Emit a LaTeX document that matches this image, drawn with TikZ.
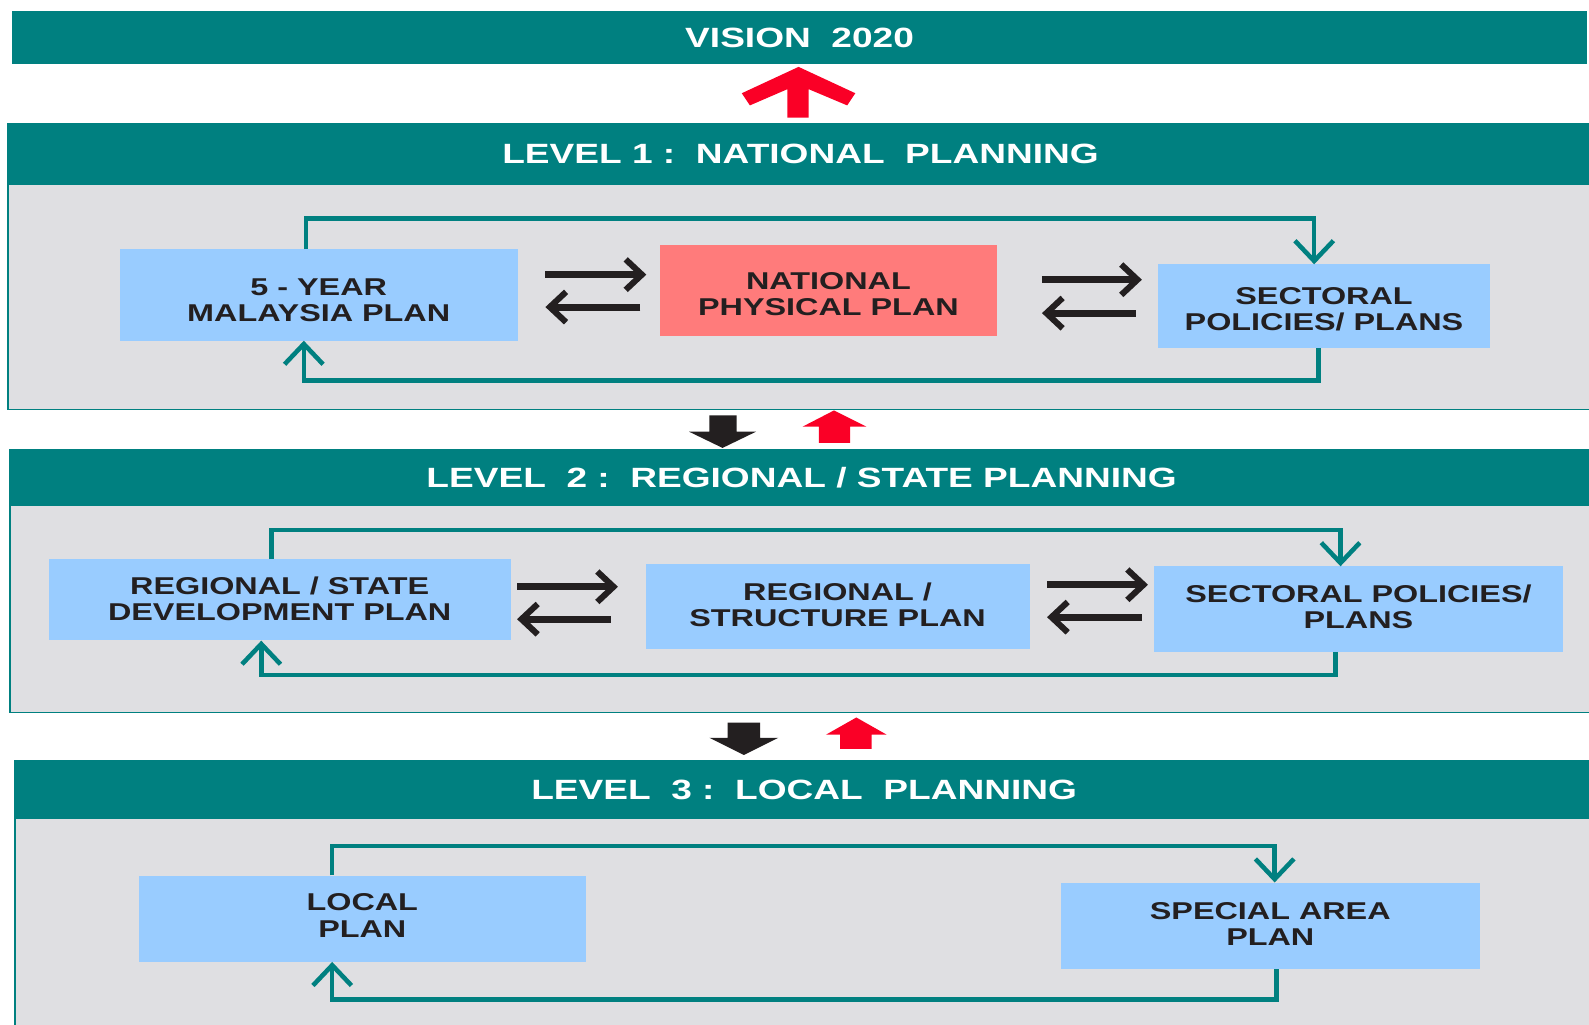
\documentclass[tikz,border=0pt]{standalone}
\usepackage{fontspec}
\setmainfont{Liberation Sans}
\newfontfamily\wfont[FakeStretch=1.33]{Liberation Sans}
\usetikzlibrary{arrows.meta,calc}
\definecolor{tealc}{RGB}{0,128,128}
\definecolor{panelg}{RGB}{223,223,226}
\definecolor{boxb}{RGB}{153,204,255}
\definecolor{salmon}{RGB}{255,123,123}
\definecolor{redc}{RGB}{250,0,38}
\definecolor{ink}{RGB}{35,31,32}
\begin{document}
\begin{tikzpicture}[x=1pt,y=-1pt,
  header/.style={rectangle,fill=tealc,draw=none,inner sep=0pt,text=white,
    font=\wfont\bfseries\fontsize{27.5}{30}\selectfont},
  panel/.style={rectangle,fill=panelg,draw=tealc,line width=1.5pt,inner sep=0pt},
  bbox/.style={rectangle,fill=boxb,inner sep=0pt},
  rbox/.style={bbox,fill=salmon},
  btext/.style={inner sep=0pt,align=center,text=ink,
    font=\wfont\bfseries\fontsize{24}{26}\selectfont},
  loopline/.style={draw=tealc,line width=4.5pt,line join=miter,
    -{Straight Barb[length=20pt,width=38pt,line width=4.5pt]}},
  blk/.style={draw=ink,line width=7pt,
    -{Straight Barb[length=16pt,width=30pt,line width=6pt]}}
]
\useasboundingbox (0,0) rectangle (1568,1011);
\fill[white] (0,0) rectangle (1568,1011);

% panels
\node[panel,minimum width=1564pt,minimum height=282pt] (p1) at (790,263) {};
\node[panel,minimum width=1562pt,minimum height=259pt] (p2) at (791,573.5) {};
\node[panel,minimum width=1557pt,minimum height=264pt] (p3) at (793.5,883) {};

% headers
\node[header,minimum width=1554pt,minimum height=53pt] (vision) at (789,37) {VISION\ \ 2020};
\node[header,minimum width=1564pt,minimum height=61pt] (h1) at (790,152.5) {\raisebox{2pt}{LEVEL 1 :\ \ NATIONAL\ \ PLANNING}};
\node[header,minimum width=1562pt,minimum height=55pt] (h2) at (791,471.5) {LEVEL\ \ 2 :\ \ REGIONAL / STATE PLANNING};
\node[header,minimum width=1557pt,minimum height=57pt] (h3) at (793.5,779.5) {LEVEL\ \ 3 :\ \ LOCAL\ \ PLANNING};

% block arrows between levels
\fill[redc] (788,66) -- (844,92) -- (836,104) -- (798,88) -- (798,116) -- (777,116)
  -- (777,88) -- (740,104) -- (732,92) -- cycle;
\fill[ink] (700,410) -- (727,410) -- (727,426) -- (746,426) -- (713,442) -- (680,426) -- (700,426) -- cycle;
\fill[redc] (808,437) -- (839,437) -- (839,421) -- (855,421) -- (823,405) -- (792,421) -- (808,421) -- cycle;
\fill[ink] (718,713) -- (750,713) -- (750,728) -- (768,728) -- (734,745) -- (700,728) -- (718,728) -- cycle;
\fill[redc] (829,739) -- (860,739) -- (860,725) -- (875,725) -- (845,708) -- (815,725) -- (829,725) -- cycle;

% level 1 boxes
\node[bbox,minimum width=393pt,minimum height=90pt,
  label={[btext,yshift=-5pt]center:5 - YEAR\\MALAYSIA PLAN}] (b11) at (314.5,291) {};
\node[rbox,minimum width=333pt,minimum height=90pt,
  label={[btext,yshift=-3pt]center:NATIONAL\\PHYSICAL PLAN}] (b12) at (817.5,287) {};
\node[bbox,minimum width=327pt,minimum height=82pt,
  label={[btext,yshift=-3pt]center:SECTORAL\\POLICIES/ PLANS}] (b13) at (1306.5,302) {};

% level 2 boxes
\node[bbox,minimum width=456pt,minimum height=80pt,
  label={[btext,yshift=1pt]center:REGIONAL / STATE\\DEVELOPMENT PLAN}] (b21) at (276,592) {};
\node[bbox,minimum width=379pt,minimum height=83pt,
  label={[btext,yshift=2pt]center:REGIONAL /\\STRUCTURE PLAN}] (b22) at (826.5,598.5) {};
\node[bbox,minimum width=403pt,minimum height=84pt,
  label={[btext,yshift=2pt]center:SECTORAL POLICIES/\\PLANS}] (b23) at (1340.5,601) {};

% level 3 boxes
\node[bbox,minimum width=441pt,minimum height=85pt,
  label={[btext,yshift=3pt]center:LOCAL\\PLAN}] (b31) at (357.5,906.5) {};
\node[bbox,minimum width=413pt,minimum height=85pt,
  label={[btext,yshift=2pt]center:SPECIAL AREA\\PLAN}] (b32) at (1253.5,913.5) {};

% level 1 connectors
\draw[blk] ($(b11.east)+(27,-20)$) -- ($(b12.west)+(-13,-16)$);
\draw[blk] ($(b12.west)+(-19,16)$) -- ($(b11.east)+(27,12)$);
\draw[blk] ($(b12.east)+(44,-11)$) -- ($(b13.west)+(-16,-26)$);
\draw[blk] ($(b13.west)+(-22,7)$) -- ($(b12.east)+(44,22)$);
\draw[loopline] ($(b11.north west)+(184,0)$) -- ++(0,-30) -| ($(b13.north west)+(154,0)$);
\draw[loopline] ($(b13.south west)+(158,0)$) -- ++(0,32) -| ($(b11.south west)+(182,0)$);

% level 2 connectors
\draw[blk] ($(b21.east)+(6,-13)$) -- ($(b22.west)+(-27,-19.5)$);
\draw[blk] ($(b22.west)+(-34,12.5)$) -- ($(b21.east)+(6,19)$);
\draw[blk] ($(b22.east)+(17,-21.5)$) -- ($(b23.west)+(-6,-24)$);
\draw[blk] ($(b23.west)+(-12,8)$) -- ($(b22.east)+(17,10.5)$);
\draw[loopline] ($(b21.north west)+(220,0)$) -- ++(0,-29) -| ($(b23.north west)+(184,0)$);
\draw[loopline] ($(b23.south west)+(179,0)$) -- ++(0,23) -| ($(b21.south west)+(210,0)$);

% level 3 connectors
\draw[loopline] ($(b31.north west)+(191,0)$) -- ++(0,-29) -| ($(b32.north west)+(211,0)$);
\draw[loopline] ($(b32.south west)+(213,0)$) -- ++(0,30) -| ($(b31.south west)+(191,0)$);
\end{tikzpicture}
\end{document}
